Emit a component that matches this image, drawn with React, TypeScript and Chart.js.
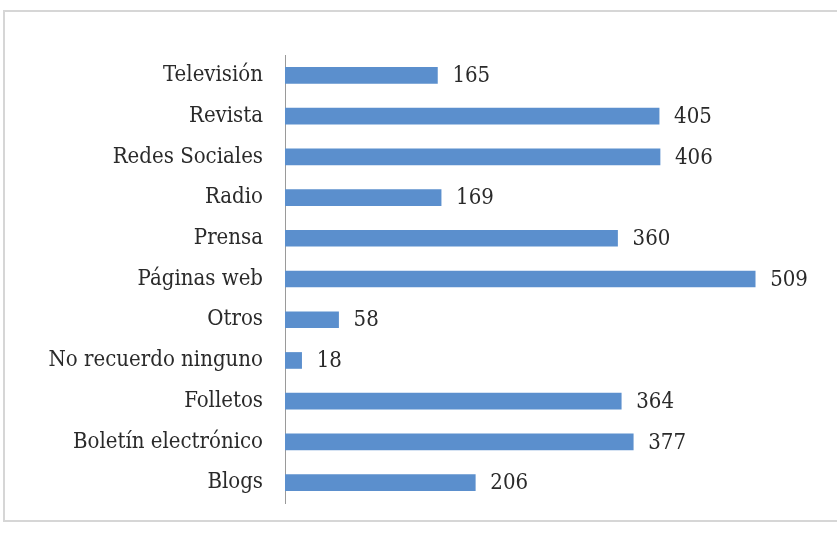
import React, { useEffect, useRef } from "react";
import { Chart, registerables } from "chart.js";

Chart.register(...registerables);

const categories = [
  "Televisión",
  "Revista",
  "Redes Sociales",
  "Radio",
  "Prensa",
  "Páginas web",
  "Otros",
  "No recuerdo ninguno",
  "Folletos",
  "Boletín electrónico",
  "Blogs",
];
const values = [165, 405, 406, 169, 360, 509, 58, 18, 364, 377, 206];

const FONT = "'DejaVu Serif Condensed', 'DejaVu Serif', serif";
const TEXT = "#2a2a2a";

const valueLabels = {
  id: "valueLabels",
  afterDatasetsDraw(chart: any) {
    const ctx = chart.ctx;
    const meta = chart.getDatasetMeta(0);
    ctx.save();
    ctx.font = `22px ${FONT}`;
    ctx.fillStyle = TEXT;
    ctx.textAlign = "left";
    ctx.textBaseline = "middle";
    meta.data.forEach((bar: any, i: number) => {
      ctx.fillText(String(values[i]), bar.x + 15, bar.y + 1);
    });
    ctx.restore();
  },
};

export default function App() {
  const ref = useRef<HTMLCanvasElement>(null);
  useEffect(() => {
    if (!ref.current) return;
    const chart = new Chart(ref.current, {
      type: "bar",
      data: {
        labels: categories,
        datasets: [
          {
            data: values,
            backgroundColor: "#5B8FCD",
            barThickness: 16,
          },
        ],
      },
      options: {
        indexAxis: "y",
        animation: false,
        responsive: false,
        layout: { padding: { top: 55, bottom: 32, right: 7, left: 0 } },
        plugins: { legend: { display: false }, tooltip: { enabled: false } },
        scales: {
          x: { display: false, min: 0, max: 590 },
          y: {
            grid: { display: false, drawTicks: true, tickLength: 20 },
            border: { display: true, color: "#9a9a9a", width: 1 },
            ticks: {
              color: TEXT,
              font: { family: FONT, size: 22 },
              padding: 2,
            },
            afterFit(scale: any) {
              scale.width = 285;
            },
          },
        },
      },
      plugins: [valueLabels],
    });
    return () => chart.destroy();
  }, []);

  return (
    <div
      style={{
        position: "absolute",
        left: 0,
        top: 0,
        width: 837,
        height: 535,
        overflow: "hidden",
        background: "#fff",
      }}
    >
      <div
        style={{
          position: "absolute",
          left: 3,
          top: 10,
          width: 900,
          height: 508,
          border: "2px solid #d6d6d6",
        }}
      />
      <canvas
        ref={ref}
        width={837}
        height={535}
        style={{ position: "absolute", left: 0, top: 0 }}
      />
    </div>
  );
}
